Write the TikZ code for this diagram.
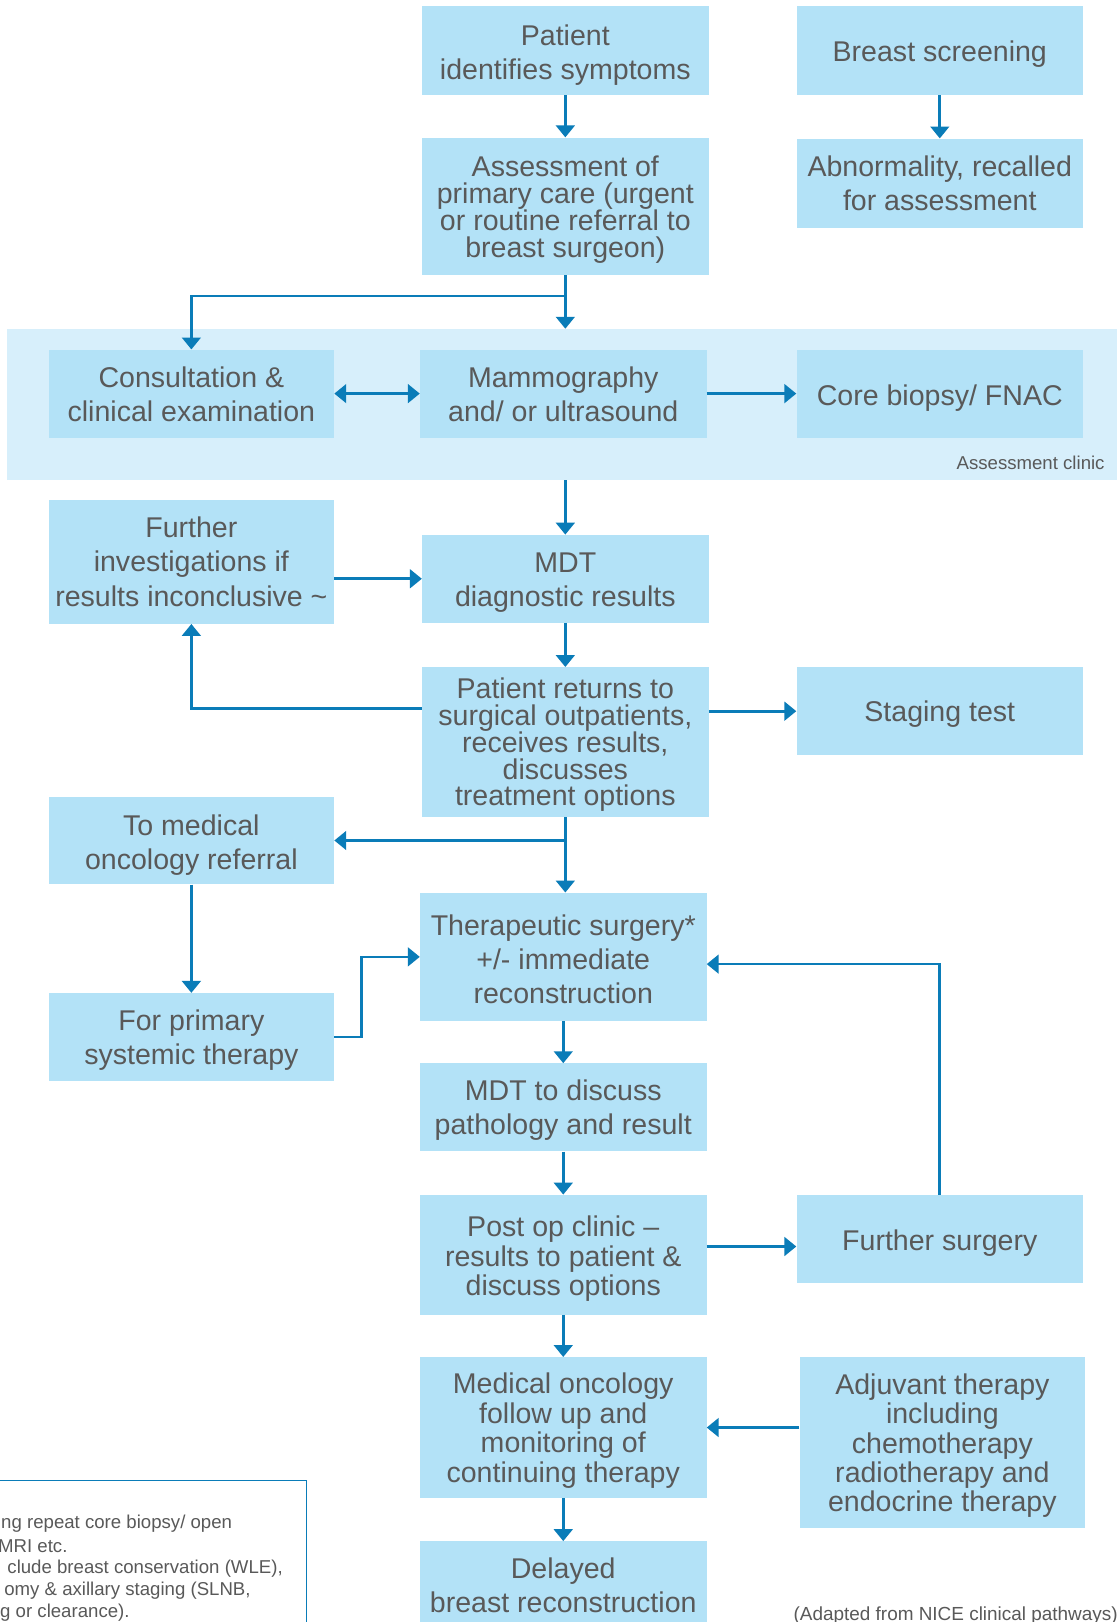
\documentclass[tikz,border=0pt]{standalone}
\usepackage{fontspec}
\setmainfont{Liberation Sans}
\usetikzlibrary{arrows.meta}
\definecolor{boxfill}{HTML}{B3E2F7}
\definecolor{bandfill}{HTML}{D7EFFB}
\definecolor{arrowc}{HTML}{0A7CB8}
\definecolor{txt}{HTML}{595959}
\tikzset{
  box/.style={fill=boxfill, draw=none, inner sep=0pt, minimum width=277pt, minimum height=85pt},
  tx/.style={inner sep=0pt, align=center, text=txt, font=\fontsize{27.6}{33}\selectfont},
  tight/.style={font=\fontsize{27.6}{25.5}\selectfont},
  mid/.style={font=\fontsize{27.6}{28.5}\selectfont},
  arr/.style={draw=arrowc, line width=2.6pt, -{Triangle[length=11.5pt,width=18pt]}},
  arrtwo/.style={draw=arrowc, line width=2.6pt, {Triangle[length=11.5pt,width=18pt]}-{Triangle[length=11.5pt,width=18pt]}},
  note/.style={inner sep=0pt, anchor=west, text=txt, font=\fontsize{18}{20}\selectfont}
}
\begin{document}
\begin{tikzpicture}[x=1pt,y=-1pt]
\useasboundingbox (0,0) rectangle (1080,1568);
\clip (0,0) rectangle (1080,1568);
\fill[white] (0,0) rectangle (1080,1568);
% assessment clinic band
\node[fill=bandfill, inner sep=0pt, minimum width=1073pt, minimum height=146pt] (band) at (543.5,391) {};
\node[inner sep=0pt, anchor=east, text=txt, font=\fontsize{18}{20}\selectfont] (bandlbl) at (1068,447) {Assessment clinic};
% boxes
\node[box, minimum height=86pt, label={[tx, yshift=-4pt]center:{Patient\\identifies symptoms}}] (pat) at (546.5,49) {};
\node[box, minimum height=86pt, label={[tx, yshift=-3pt]center:{Breast screening}}] (scr) at (908.5,49) {};
\node[box, minimum height=133pt, label={[tx, font=\fontsize{27.6}{26}\selectfont, yshift=-3pt]center:{Assessment of\\primary care (urgent\\or routine referral to\\breast surgeon)}}] (asp) at (546.5,199.5) {};
\node[box, minimum height=86pt, label={[tx, yshift=0pt]center:{Abnormality, recalled\\for assessment}}] (abn) at (908.5,177) {};
\node[box, minimum width=276pt, label={[tx, yshift=-1pt]center:{Consultation \&\\clinical examination}}] (con) at (185,380.5) {};
\node[box, label={[tx, yshift=-1pt]center:{Mammography\\and/ or ultrasound}}] (mam) at (544.5,380.5) {};
\node[box, label={[tx, yshift=-4.5pt]center:{Core biopsy/ FNAC}}] (cor) at (908.5,380.5) {};
\node[box, minimum width=276pt, minimum height=120pt, label={[tx, font=\fontsize{27.6}{33.5}\selectfont, yshift=0pt]center:{Further\\investigations if\\results inconclusive \textasciitilde}}] (fur) at (185,543) {};
\node[box, label={[tx, yshift=-3.5pt]center:{MDT\\diagnostic results}}] (mdt) at (546.5,559.5) {};
\node[box, minimum height=145pt, label={[tx, tight, yshift=-2.5pt]center:{Patient returns to\\surgical outpatients,\\receives results,\\discusses\\treatment options}}] (ret) at (546.5,717.5) {};
\node[box, label={[tx, yshift=-3pt]center:{Staging test}}] (stg) at (908.5,687.5) {};
\node[box, minimum width=276pt, label={[tx, yshift=-4.5pt]center:{To medical\\oncology referral}}] (onc) at (185,812.5) {};
\node[box, minimum height=124pt, label={[tx, yshift=-2pt]center:{Therapeutic surgery*\\+/- immediate\\reconstruction}}] (ther) at (544.5,925) {};
\node[box, minimum width=276pt, label={[tx, yshift=-3pt]center:{For primary\\systemic therapy}}] (prim) at (185,1002.5) {};
\node[box, label={[tx, yshift=-3pt]center:{MDT to discuss\\pathology and result}}] (mdtb) at (544.5,1070.5) {};
\node[box, minimum height=116pt, label={[tx, mid, yshift=-4pt]center:{Post op clinic –\\results to patient \&\\discuss options}}] (post) at (544.5,1213) {};
\node[box, label={[tx, yshift=-4pt]center:{Further surgery}}] (fsurg) at (908.5,1197.5) {};
\node[box, minimum height=136pt, label={[tx, mid, yshift=-3pt]center:{Medical oncology\\follow up and\\monitoring of\\continuing therapy}}] (med) at (544.5,1380) {};
\node[box, minimum width=276pt, minimum height=165pt, label={[tx, mid, yshift=-3pt]center:{Adjuvant therapy\\including\\chemotherapy\\radiotherapy and\\endocrine therapy}}] (adj) at (911,1394.5) {};
\node[box, label={[tx, yshift=0pt]center:{Delayed\\breast reconstruction}}] (del) at (544.5,1532.5) {};
% note box
\node[draw=arrowc, line width=0.9pt, inner sep=0pt, minimum width=337pt, minimum height=200pt, anchor=north east] (notebox) at (297,1431) {};
\node[note] (n1) at (1,1473) {ng repeat core biopsy/ open};
\node[note] (n2) at (-2,1494.5) {MRI etc.};
\node[note] (n3) at (7,1516) {clude breast conservation (WLE),};
\node[note] (n4) at (4,1537.5) {omy \& axillary staging (SLNB,};
\node[note] (n5) at (0,1559) {g or clearance).};
\node[note, font=\fontsize{18.3}{20}\selectfont] (src) at (767,1562) {(Adapted from NICE clinical pathways)};
% connectors
\draw[arr] (pat) -- (asp);
\draw[arr] (scr) -- (abn);
\draw[arr] (asp.south) -- (asp.south |- band.north);
\draw[arr] (asp.south) -- ++(0,20) -| (con.north);
\draw[arrtwo] (con.east) -- (mam.west);
\draw[arr] (mam.east) -- (cor.west);
\draw[arr] (mdt.north |- band.south) -- (mdt.north);
\draw[arr] (fur.east |- mdt.west) -- (mdt.west);
\draw[arr] (mdt) -- (ret);
\draw[arr] ([yshift=32.5pt]ret.west) -| (fur.south);
\draw[arr] (ret.east |- stg.west) -- (stg.west);
\draw[arr] (ret.south) -- (ret.south |- ther.north);
\draw[arr] (ret.south |- onc.east) -- (onc.east);
\draw[arr] (onc) -- (prim);
\draw[arr] (prim.east) -- ++(26,0) |- (ther.west);
\draw[arr] (fsurg.north) |- ([yshift=-7pt]ther.east);
\draw[arr] (ther.south -| mdtb.north) -- (mdtb.north);
\draw[arr] (mdtb) -- (post);
\draw[arr] ([yshift=8pt]post.east) -- ([yshift=8pt]post.east -| fsurg.west);
\draw[arr] (post) -- (med);
\draw[arr] (adj.west |- med.east) -- (med.east);
\draw[arr] (med) -- (del);
\end{tikzpicture}
\end{document}
